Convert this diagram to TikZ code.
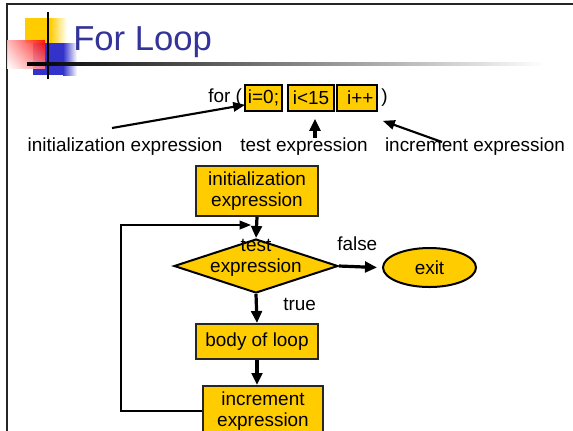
\documentclass[tikz,border=0pt]{standalone}
\usepackage{fontspec}
\setmainfont{Liberation Sans}
\usetikzlibrary{shapes.geometric,arrows.meta,calc,shadings}
\definecolor{gold}{RGB}{255,204,0}
\definecolor{titleblue}{RGB}{51,51,153}
\definecolor{logoblue}{RGB}{51,51,204}

\begin{document}
\begin{tikzpicture}[x=0.75pt,y=-0.75pt,
  every node/.style={font=\fontsize{14.2pt}{15.8pt}\selectfont,inner sep=0pt},
  box/.style={draw=black!85,line width=1.5pt,fill=gold,align=center},
  codebox/.style={draw=black,line width=1.2pt,fill=gold,minimum height=19.5pt},
  flow/.style={line width=2.4pt,-{Triangle[length=9pt,width=8pt]}},
  backflow/.style={line width=1.2pt,-{Triangle[length=8.5pt,width=6.5pt]}},
  pointer/.style={line width=1.6pt,-{Triangle[length=9pt,width=7pt]}}]

\useasboundingbox (0,0) rectangle (573,430);
\clip (0,0) rectangle (573,430);

% slide frame
\draw[line width=1.5pt,black!85] (7,440) -- (7,4) -- (580,4);

% title logo
\fill[gold] (25,18) rectangle (50,43);
\shade[left color=gold,right color=white] (50,18) rectangle (67,43);
\fill[logoblue] (33,43) rectangle (63,75);
\shade[left color=logoblue,right color=white] (63,43) rectangle (77,75);
\shade[upper right=red,upper left=red!30,lower left=white,lower right=red!50,opacity=0.9]
  (7,40) rectangle (45,68);
\draw[line width=2.2pt] (48,12) -- (48,79);
\shade[left color=black,right color=white] (27,62) rectangle (545,65);

% title
\node[anchor=base west,text=titleblue,font=\fontsize{26pt}{30pt}\selectfont] (title) at (73,50) {For Loop};

% the for statement
\node[anchor=base west] (forkw) at (208,102) {for (};
\node[codebox,minimum width=27.75pt] (c1) at (263.5,98) {i=0;};
\node[codebox,minimum width=34.5pt] (c2) at (311,98) {i<15};
\node[codebox,minimum width=30pt] (c3) at (357,98) {\hspace{5pt}i++};
\node[anchor=base west] (rparen) at (381,102) {)};

% part labels
\node[anchor=base] (lblinit) at (125,151) {initialization expression};
\node[anchor=base] (lbltest) at (304,151) {test expression};
\node[anchor=base] (lblincr) at (475,151) {increment expression};

\coordinate (initfrom) at (112,128);
\coordinate (testfrom) at (315,138);
\coordinate (incrfrom) at (442,142);
\draw[pointer] (initfrom) -- ($(c1.south west)+(1,-7)$);
\draw[flow] (testfrom) -- ($(c2.south)+(4,7)$);
\draw[pointer] (incrfrom) -- ($(c3.south east)+(5,9)$);

% flowchart
\node[box,minimum width=91.5pt,minimum height=37.5pt] (init) at (257,191) {initialization\\expression};
\node[diamond,draw=black,line width=1.5pt,fill=gold,minimum width=123pt,minimum height=40.5pt] (test) at (256,266) {};
\node[align=center] (testtxt) at (256,257.5) {test\\expression};
\node[ellipse,draw=black,line width=1.5pt,fill=gold,minimum width=69.75pt,minimum height=29.25pt] (exit) at (429.5,267.5) {exit};
\node[box,minimum width=91.5pt,minimum height=26.25pt] (body) at (257,341.5) {body of loop};
\node[box,minimum width=90pt,minimum height=37.5pt] (incr) at (263,411) {increment\\expression};

\node[anchor=base west] (falselbl) at (337,250) {false};
\node[anchor=base west] (truelbl) at (283,310) {true};

\coordinate (loopin) at (251,225);
\draw[flow] (init.south) -- (test.north);
\draw[flow] (test.east) -- ($(exit.west)+(-5,0)$);
\draw[flow] (test.south) -- (body.north);
\draw[flow] (body.south) -- (body.south |- incr.north);
\draw[backflow] (incr.west) -- ++(-81,0) |- (loopin);
\end{tikzpicture}
\end{document}
